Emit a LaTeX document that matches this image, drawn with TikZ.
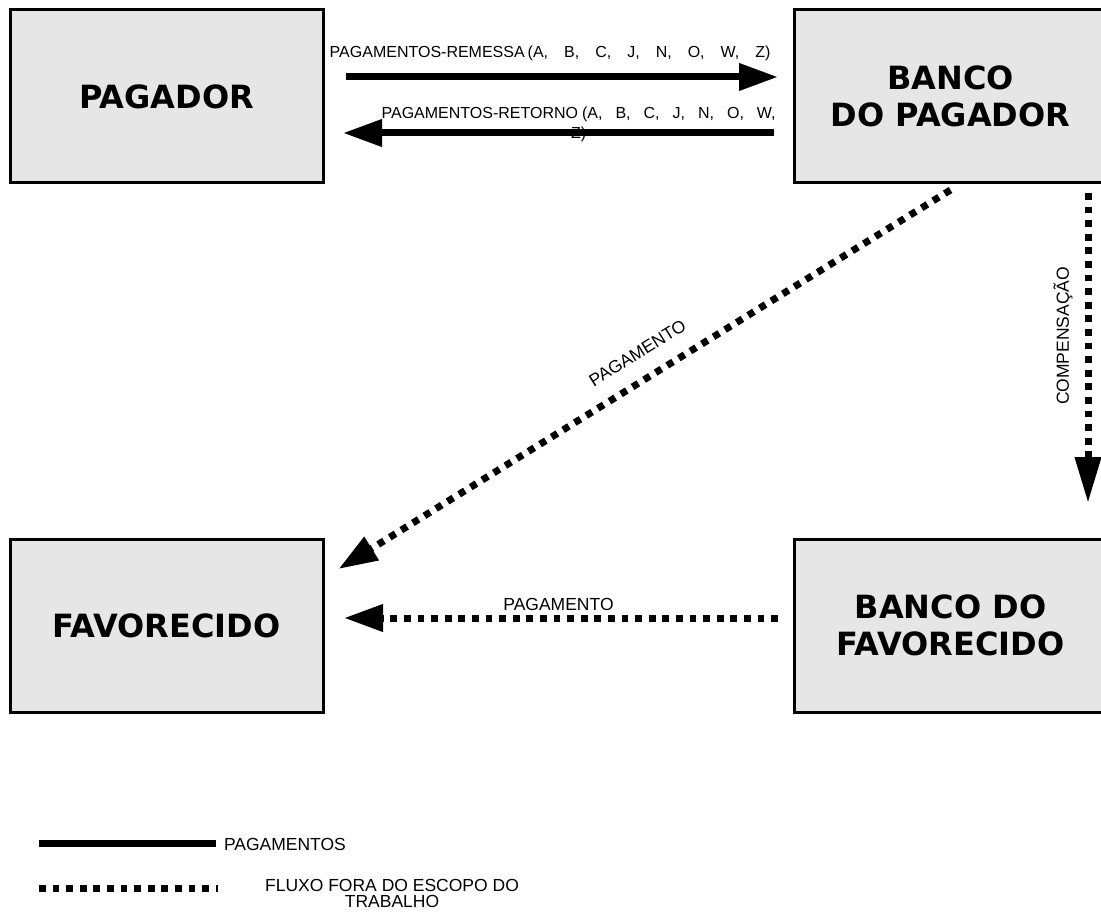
\documentclass[tikz,border=0pt]{standalone}
\usepackage{fontspec}
\setmainfont{Liberation Sans}
\newfontfamily\boxfont{DejaVu Sans}
\usetikzlibrary{arrows.meta, positioning}
\definecolor{boxgray}{HTML}{E6E6E6}
\newcommand*{\wgap}[1]{\hspace{#1pt}}

\begin{document}
\begin{tikzpicture}[x=1pt,y=-1pt,on grid,node distance=529pt and 784pt,
      >={Triangle[length=39pt,width=26pt]},
      box/.style={draw,line width=3pt,fill=boxgray,minimum width=313pt,minimum height=173pt,
        align=center,font=\boxfont\bfseries\fontsize{32}{37}\selectfont},
      lbl/.style={font=\fontsize{17.5}{16}\selectfont,inner sep=1pt,outer sep=0pt},
      wlbl/.style={font=\fontsize{16}{20}\selectfont,inner sep=1pt,outer sep=0pt,align=center},
      flow/.style={->,line width=7pt},
      offscope/.style={flow,dash pattern=on 6.8pt off 6.8pt}
      ]
      \useasboundingbox (0,0) rectangle (1101,917);
      \node[box] (pagador) at (166.5,96.5) {PAGADOR};
      \node[box] (banco_pag) [right=of pagador] {BANCO\\DO PAGADOR};
      \node[box] (favor) [below=of pagador] {FAVORECIDO};
      \node[box] (banco_fav) [right=of favor] {BANCO DO\\FAVORECIDO};
      % pagamentos
      \draw[flow,shorten <=21.5pt,shorten >=14.5pt]
        ([yshift=19.5pt]pagador.east) -- ([yshift=19.5pt]banco_pag.west)
        node[wlbl,pos=0.482,above=15pt] {PAGAMENTOS-REMESSA\wgap{3}(A,\wgap{16}B,\wgap{16}C,\wgap{16}J,\wgap{16}N,\wgap{16}O,\wgap{16}W,\wgap{16}Z)};
      \draw[flow,shorten <=18.5pt,shorten >=18.5pt]
        ([yshift=-36.5pt]banco_pag.west) -- ([yshift=-36.5pt]pagador.east)
        node[wlbl,behind path,pos=0.457,yshift=9pt] {PAGAMENTOS-RETORNO\wgap{4}(A,\wgap{13}B,\wgap{13}C,\wgap{13}J,\wgap{13}N,\wgap{13}O,\wgap{13}W,\\Z)};
      % fora do escopo
      \draw[offscope]
        ([yshift=-5.5pt]banco_pag.south) -- ([xshift=14pt,yshift=-31.5pt]favor.north east)
        node[lbl,pos=0.489,sloped,above=19pt] {PAGAMENTO};
      \draw[offscope,-{Triangle[length=46pt,width=25pt]}]
        ([xshift=137.5pt,yshift=-8.5pt]banco_pag.south) -- ([xshift=137.5pt,yshift=34.5pt]banco_fav.north)
        node[lbl,pos=0.461,xshift=-25pt,rotate=90] {COMPENSAÇÃO};
      \draw[offscope,shorten <=14.5pt,shorten >=19.5pt]
        ([yshift=7.5pt]banco_fav.west) -- ([yshift=7.5pt]favor.east)
        node[lbl,midway,above=6.5pt] {PAGAMENTO};
      % legenda
      \coordinate (leg_solid) at (39,843);
      \node[lbl,anchor=west] (leg_pag) at (223,844) {PAGAMENTOS};
      \draw[line width=7pt] (leg_solid) -- ([xshift=-7pt]leg_pag.west |- leg_solid);
      \coordinate (leg_dot) at (39,888);
      \draw[line width=7pt,dash pattern=on 6.8pt off 6.8pt] (leg_dot) -- ++(179,0);
      \node[lbl,align=center] (leg_fluxo) at (392,893) {FLUXO FORA DO ESCOPO DO\\TRABALHO};
\end{tikzpicture}
\end{document}
